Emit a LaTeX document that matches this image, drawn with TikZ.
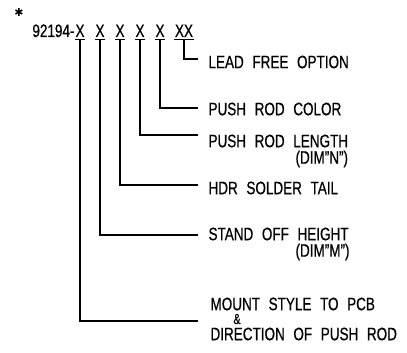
\documentclass[tikz,border=0pt]{standalone}
\usepackage{fontspec}
\setmainfont[FakeStretch=0.75,WordSpace=2.3,FakeBold=0.6]{Liberation Sans}
\newfontfamily\symfont{DejaVu Sans}
\begin{document}
\begin{tikzpicture}[x=1pt,y=-1pt,line width=1.1pt,
  lbl/.style={font=\fontsize{18}{18}\selectfont,inner sep=0pt,anchor=west},
  xch/.style={font=\fontsize{18}{18}\selectfont,inner sep=0pt,anchor=base},
  uline/.style={line width=1.1pt}]
\useasboundingbox (0,0) rectangle (407,353);
% star
\node[inner sep=0pt,font=\symfont\fontsize{11}{11}\selectfont] (star) at (19,12) {✱};
% title
\node[xch,anchor=base east] (t0) at (75,37) {92194-};
\node[xch] (x1) at (80,37) {X};
\node[xch] (x2) at (100,37) {X};
\node[xch] (x3) at (120,37) {X};
\node[xch] (x4) at (140,37) {X};
\node[xch] (x5) at (160,37) {X};
\node[xch] (x6) at (184,37) {XX};
\foreach \n in {x1,x2,x3,x4,x5,x6}
  \draw[uline] ([yshift=-2pt]\n.south west) -- ([yshift=-2pt]\n.south east);
% labels
\node[lbl] (l6) at (208,62) {LEAD FREE OPTION};
\node[lbl] (l5) at (208,109) {PUSH ROD COLOR};
\node[lbl] (l4) at (208,141) {PUSH ROD LENGTH};
\node[lbl] (l4b) at (295,159) {(DIM"N")};
\node[lbl] (l3) at (208,188) {HDR SOLDER TAIL};
\node[lbl] (l2) at (208,234) {STAND OFF HEIGHT};
\node[lbl] (l2b) at (295,252) {(DIM"M")};
\node[lbl] (l1) at (210,304) {MOUNT STYLE TO PCB};
\node[lbl,anchor=center,font=\fontsize{14.5}{14.5}\selectfont] (l1b) at (237,319) {\&};
\node[lbl] (l1c) at (210,334) {DIRECTION OF PUSH ROD};
% line ends
\coordinate (e6) at (198,59);
\coordinate (e5) at (198,108);
\coordinate (e4) at (198,135);
\coordinate (e3) at (198,185);
\coordinate (e2) at (198,235);
\coordinate (e1) at (198,321);
% connectors
\draw ([yshift=-2pt]x6.south) |- (e6);
\draw ([yshift=-2pt]x5.south) |- (e5);
\draw ([yshift=-2pt]x4.south) |- (e4);
\draw ([yshift=-2pt]x3.south) |- (e3);
\draw ([yshift=-2pt]x2.south) |- (e2);
\draw ([yshift=-2pt]x1.south) |- (e1);
\end{tikzpicture}
\end{document}
